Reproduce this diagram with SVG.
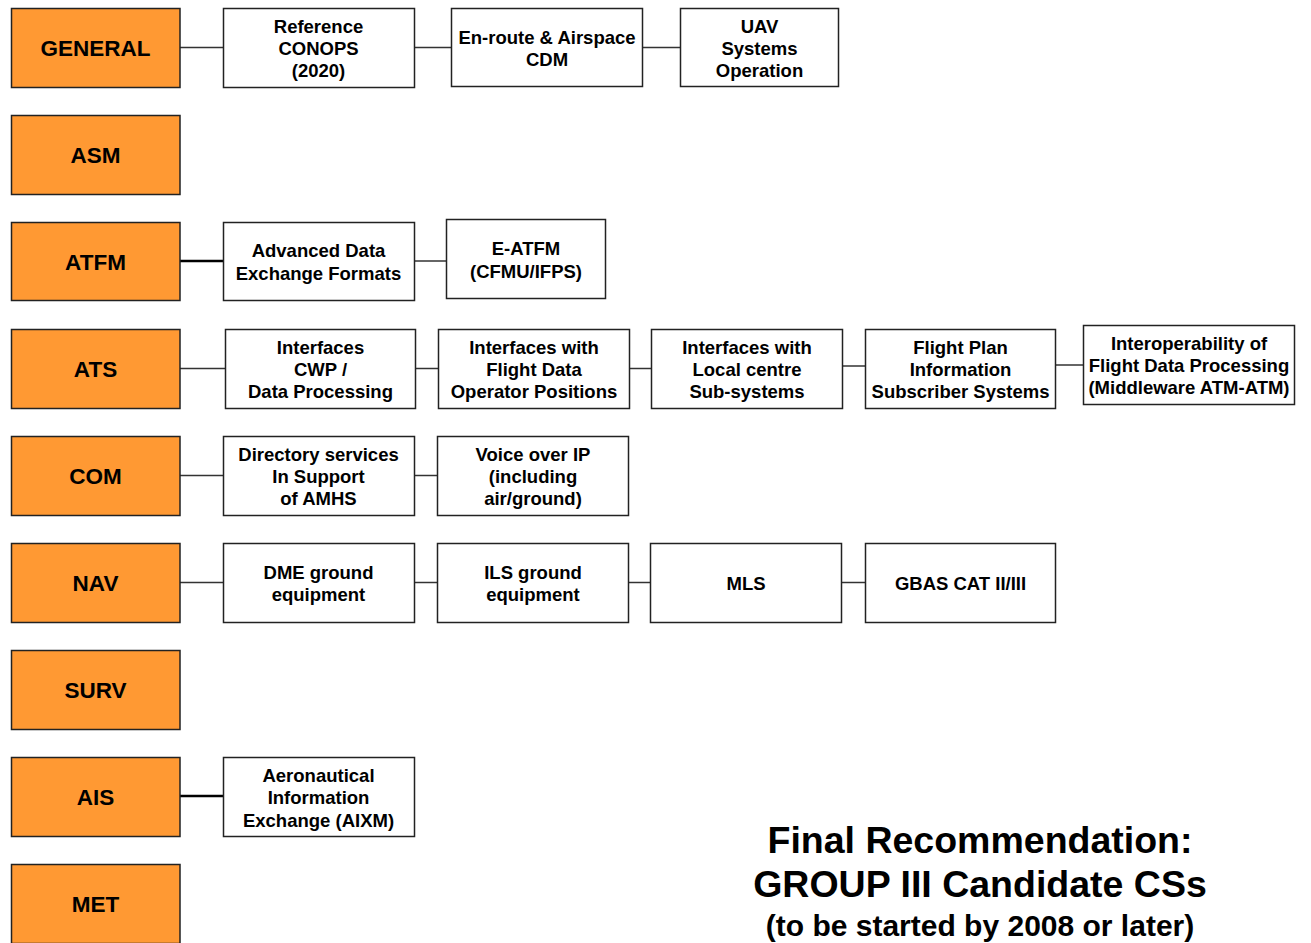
<svg xmlns="http://www.w3.org/2000/svg" width="1311" height="943" viewBox="0 0 1311 943">
<style>
.cat rect{fill:#FF9933;stroke:#222;stroke-width:1.5}
.cat text{font-family:"Liberation Sans",Arial,sans-serif;font-weight:bold;font-size:22.5px;fill:#000;text-anchor:middle}
.box rect{fill:#fff;stroke:#222;stroke-width:1.5}
.box text{font-family:"Liberation Sans",Arial,sans-serif;font-weight:bold;font-size:18.5px;fill:#000;text-anchor:middle}
.conn line{stroke:#333;stroke-width:1.5}
.conn line.thick{stroke:#000;stroke-width:2.5}
.title text{font-family:"Liberation Sans",Arial,sans-serif;font-weight:bold;fill:#000;text-anchor:middle}
</style>
<rect width="1311" height="943" fill="#fff"/>
<g class="conn">
<line x1="180" y1="47.5" x2="223" y2="47.5"/>
<line x1="414" y1="47.5" x2="451" y2="47.5"/>
<line x1="642" y1="47.5" x2="680" y2="47.5"/>
<line class="thick" x1="180" y1="261" x2="223" y2="261"/>
<line x1="414" y1="261" x2="446" y2="261"/>
<line x1="180" y1="368.5" x2="225" y2="368.5"/>
<line x1="415" y1="368.5" x2="438" y2="368.5"/>
<line x1="629" y1="368.5" x2="651" y2="368.5"/>
<line x1="842" y1="366" x2="865" y2="366"/>
<line x1="1055" y1="365" x2="1083" y2="365"/>
<line x1="180" y1="475.5" x2="223" y2="475.5"/>
<line x1="414" y1="475.5" x2="437" y2="475.5"/>
<line x1="180" y1="582.5" x2="223" y2="582.5"/>
<line x1="414" y1="582.5" x2="437" y2="582.5"/>
<line x1="628" y1="582.5" x2="650" y2="582.5"/>
<line x1="841" y1="582.5" x2="865" y2="582.5"/>
<line class="thick" x1="180" y1="796" x2="223" y2="796"/>
</g>
<g id="general" class="cat"><rect x="11.5" y="8.5" width="168.5" height="79"/><text x="95.5" y="56">GENERAL</text></g>
<g id="asm" class="cat"><rect x="11.5" y="115.5" width="168.5" height="79"/><text x="95.5" y="163">ASM</text></g>
<g id="atfm" class="cat"><rect x="11.5" y="222.5" width="168.5" height="78"/><text x="95.5" y="270">ATFM</text></g>
<g id="ats" class="cat"><rect x="11.5" y="329.5" width="168.5" height="79"/><text x="95.5" y="377">ATS</text></g>
<g id="com" class="cat"><rect x="11.5" y="436.5" width="168.5" height="79"/><text x="95.5" y="484">COM</text></g>
<g id="nav" class="cat"><rect x="11.5" y="543.5" width="168.5" height="79"/><text x="95.5" y="591">NAV</text></g>
<g id="surv" class="cat"><rect x="11.5" y="650.5" width="168.5" height="79"/><text x="95.5" y="698">SURV</text></g>
<g id="ais" class="cat"><rect x="11.5" y="757.5" width="168.5" height="79"/><text x="95.5" y="805">AIS</text></g>
<g id="met" class="cat"><rect x="11.5" y="864.5" width="168.5" height="79"/><text x="95.5" y="912">MET</text></g>

<g id="ref-conops" class="box"><rect x="223.5" y="8.5" width="191" height="79"/><text x="318.5" y="32.5">Reference</text><text x="318.5" y="54.5">CONOPS</text><text x="318.5" y="76.5">(2020)</text></g>
<g id="enroute" class="box"><rect x="451.5" y="8.5" width="191" height="78"/><text x="547" y="43.5">En-route &amp; Airspace</text><text x="547" y="65.5">CDM</text></g>
<g id="uav" class="box"><rect x="680.5" y="8.5" width="158" height="78"/><text x="759.5" y="32.5">UAV</text><text x="759.5" y="54.5">Systems</text><text x="759.5" y="76.5">Operation</text></g>

<g id="adv-data" class="box"><rect x="223.5" y="222.5" width="191" height="78"/><text x="318.5" y="256.5">Advanced Data</text><text x="318.5" y="279.5">Exchange Formats</text></g>
<g id="e-atfm" class="box"><rect x="446.5" y="219.5" width="159" height="79"/><text x="526" y="254.5">E-ATFM</text><text x="526" y="277.5">(CFMU/IFPS)</text></g>

<g id="if-cwp" class="box"><rect x="225.5" y="329.5" width="190" height="79"/><text x="320.5" y="353.5">Interfaces</text><text x="320.5" y="375.5">CWP /</text><text x="320.5" y="397.5">Data Processing</text></g>
<g id="if-fdop" class="box"><rect x="438.5" y="329.5" width="191" height="79"/><text x="534" y="353.5">Interfaces with</text><text x="534" y="375.5">Flight Data</text><text x="534" y="397.5">Operator Positions</text></g>
<g id="if-local" class="box"><rect x="651.5" y="329.5" width="191" height="79"/><text x="747" y="353.5">Interfaces with</text><text x="747" y="375.5">Local centre</text><text x="747" y="397.5">Sub-systems</text></g>
<g id="fp-info" class="box"><rect x="865.5" y="329.5" width="190" height="79"/><text x="960.5" y="353.5">Flight Plan</text><text x="960.5" y="375.5">Information</text><text x="960.5" y="397.5">Subscriber Systems</text></g>
<g id="interop" class="box"><rect x="1083.5" y="325.5" width="211" height="79"/><text x="1189" y="349.5">Interoperability of</text><text x="1189" y="371.5">Flight Data Processing</text><text x="1189" y="393.5">(Middleware ATM-ATM)</text></g>

<g id="directory" class="box"><rect x="223.5" y="436.5" width="191" height="79"/><text x="318.5" y="460.5">Directory services</text><text x="318.5" y="482.5">In Support</text><text x="318.5" y="504.5">of AMHS</text></g>
<g id="voip" class="box"><rect x="437.5" y="436.5" width="191" height="79"/><text x="533" y="460.5">Voice over IP</text><text x="533" y="482.5">(including</text><text x="533" y="504.5">air/ground)</text></g>

<g id="dme" class="box"><rect x="223.5" y="543.5" width="191" height="79"/><text x="318.5" y="578.5">DME ground</text><text x="318.5" y="600.5">equipment</text></g>
<g id="ils" class="box"><rect x="437.5" y="543.5" width="191" height="79"/><text x="533" y="578.5">ILS ground</text><text x="533" y="600.5">equipment</text></g>
<g id="mls" class="box"><rect x="650.5" y="543.5" width="191" height="79"/><text x="746" y="589.5">MLS</text></g>
<g id="gbas" class="box"><rect x="865.5" y="543.5" width="190" height="79"/><text x="960.5" y="589.5">GBAS CAT II/III</text></g>

<g id="aixm" class="box"><rect x="223.5" y="757.5" width="191" height="79"/><text x="318.5" y="781.5">Aeronautical</text><text x="318.5" y="803.5">Information</text><text x="318.5" y="826.5">Exchange (AIXM)</text></g>

<g class="title">
<text x="980" y="853" font-size="37.5">Final Recommendation:</text>
<text x="980" y="897" font-size="37.5">GROUP III Candidate CSs</text>
<text x="980" y="936" font-size="30">(to be started by 2008 or later)</text>
</g>
</svg>
